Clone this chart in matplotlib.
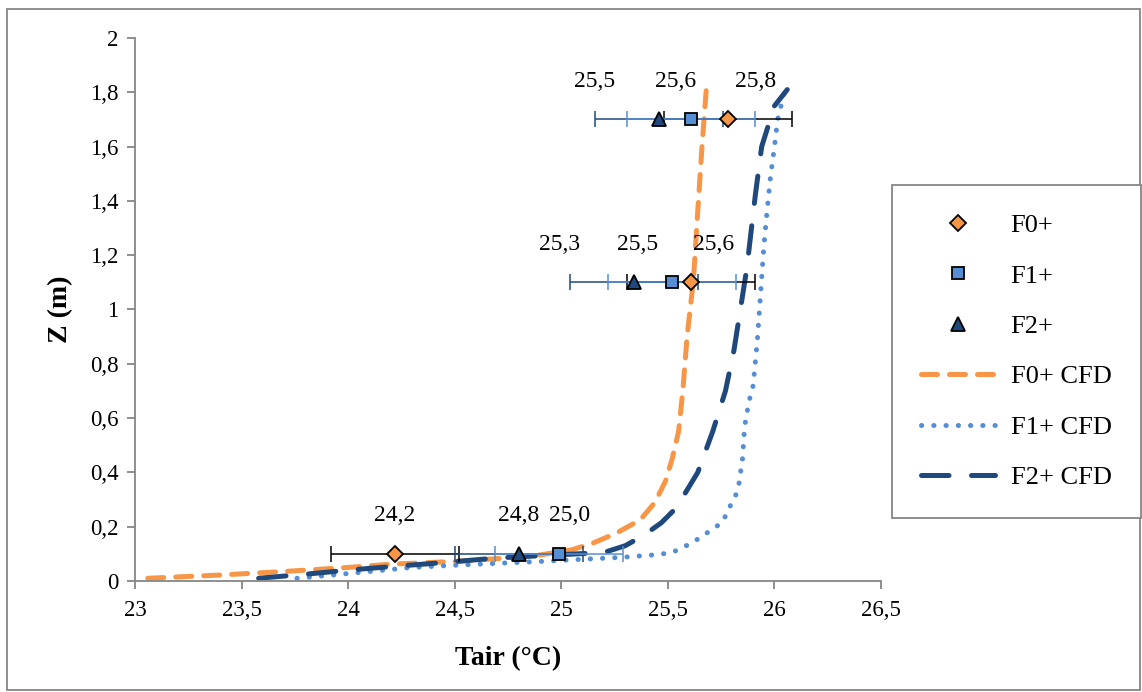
# Vertical air temperature profiles: measurements vs CFD
import matplotlib.pyplot as plt
from matplotlib.lines import Line2D
from matplotlib.patches import Rectangle
from matplotlib.ticker import FuncFormatter

plt.rcParams['font.family'] = ['Liberation Serif', 'DejaVu Serif']

# measured heights (m) and temperatures (degC)
z_meas = [0.1, 1.1, 1.7]
t_f0 = [24.22, 25.61, 25.78]
t_f1 = [24.99, 25.52, 25.61]
t_f2 = [24.80, 25.34, 25.46]
t_err = 0.3

# CFD profiles
cfd_f0_t = [23.06, 23.4, 23.7, 24.0, 24.2, 24.5, 24.75, 24.9, 25.05, 25.15, 25.26,
            25.37, 25.44, 25.49, 25.52, 25.55, 25.57, 25.59, 25.62, 25.64, 25.66, 25.68]
cfd_f0_z = [0.01, 0.022, 0.035, 0.05, 0.062, 0.072, 0.085, 0.096, 0.115, 0.14, 0.177,
            0.225, 0.29, 0.37, 0.45, 0.55, 0.70, 0.90, 1.11, 1.36, 1.60, 1.81]
cfd_f1_t = [23.76, 23.9, 24.1, 24.3, 24.5, 24.7, 24.9, 25.1, 25.28, 25.45, 25.52, 25.56,
            25.62, 25.66, 25.71, 25.76, 25.78, 25.81, 25.83, 25.85, 25.86, 25.88, 25.9,
            25.92, 25.935, 25.95, 25.965, 25.98, 26.0, 26.015, 26.04, 26.05]
cfd_f1_z = [0.01, 0.02, 0.035, 0.05, 0.058, 0.065, 0.072, 0.08, 0.087, 0.097, 0.105, 0.12,
            0.143, 0.166, 0.19, 0.22, 0.26, 0.30, 0.34, 0.45, 0.57, 0.66, 0.72,
            0.89, 1.06, 1.23, 1.36, 1.48, 1.6, 1.7, 1.78, 1.81]
cfd_f2_t = [23.58, 23.8, 24.0, 24.2, 24.45, 24.7, 24.95, 25.2, 25.3, 25.39, 25.47, 25.54,
            25.64, 25.71, 25.77, 25.81, 25.84, 25.87, 25.91, 25.94, 26.0, 26.06]
cfd_f2_z = [0.01, 0.025, 0.04, 0.053, 0.068, 0.085, 0.095, 0.105, 0.13, 0.17, 0.215, 0.27,
            0.40, 0.55, 0.70, 0.85, 1.0, 1.15, 1.42, 1.60, 1.75, 1.81]

orange = '#F79646'
light_blue = '#558ED5'
dark_blue = '#1F497D'

fig = plt.figure(figsize=(11.42, 6.92), dpi=100)
ax = fig.add_axes([0.1182, 0.1604, 0.6533, 0.7847])

# CFD curves
ax.plot(cfd_f0_t, cfd_f0_z, color=orange, lw=3.6, dashes=(3.2, 2.4),
        dash_capstyle='round', zorder=2)
ax.plot(cfd_f1_t, cfd_f1_z, color=light_blue, lw=3.6, dashes=(0.05, 2.4),
        dash_capstyle='round', zorder=2)
ax.plot(cfd_f2_t, cfd_f2_z, color=dark_blue, lw=3.6, dashes=(5.5, 4.5),
        dash_capstyle='round', zorder=2)

# error bars
ax.errorbar(t_f0, z_meas, xerr=t_err, fmt='none', ecolor='black', elinewidth=1.1,
            capsize=6, capthick=1.1, zorder=3)
ax.errorbar(t_f2, z_meas, xerr=t_err, fmt='none', ecolor=dark_blue, elinewidth=1.1,
            capsize=6, capthick=1.1, zorder=3)
ax.errorbar(t_f1, z_meas, xerr=t_err, fmt='none', ecolor=light_blue, elinewidth=1.1,
            capsize=6, capthick=1.1, zorder=3)

# markers
ax.plot(t_f0, z_meas, 'D', ms=8, mfc=orange, mec='black', mew=1.3, ls='none', zorder=4)
ax.plot(t_f1, z_meas, 's', ms=8.5, mfc=light_blue, mec='black', mew=1.3, ls='none', zorder=4)
ax.plot(t_f2, z_meas, '^', ms=10, mfc=dark_blue, mec='black', mew=1.3, ls='none', zorder=4)

# data labels (offsets in pixels)
lab_dx = {'f0': [0, 22, 28], 'f1': [10, -35, -16], 'f2': [0, -74, -65]}
for key, temps in (('f0', t_f0), ('f1', t_f1), ('f2', t_f2)):
    for t, z, dx in zip(temps, z_meas, lab_dx[key]):
        ax.annotate(f"{t:.1f}".replace('.', ','), (t, z), xytext=(dx, 38),
                    textcoords='offset pixels', ha='center', va='center', fontsize=17)

ax.set_xlim(23, 26.5)
ax.set_ylim(0, 2)
ax.set_xticks([23, 23.5, 24, 24.5, 25, 25.5, 26, 26.5])
ax.set_yticks([0, 0.2, 0.4, 0.6, 0.8, 1.0, 1.2, 1.4, 1.6, 1.8, 2.0])
fmt = FuncFormatter(lambda v, p: f"{v:g}".replace('.', ','))
ax.xaxis.set_major_formatter(fmt)
ax.yaxis.set_major_formatter(fmt)
ax.tick_params(labelsize=16.5, colors='#868686', labelcolor='black', length=6, width=1.3)
ax.tick_params(axis='x', pad=8)
ax.tick_params(axis='y', pad=6)
for s in ('top', 'right'):
    ax.spines[s].set_visible(False)
for s in ('left', 'bottom'):
    ax.spines[s].set_color('#868686')
    ax.spines[s].set_linewidth(1.3)

ax.set_xlabel('Tair (°C)', fontsize=20, fontweight='bold', labelpad=18)
ax.set_ylabel('Z (m)', fontsize=20, fontweight='bold', labelpad=12)

handles = [
    Line2D([], [], marker='D', ms=8, mfc=orange, mec='black', mew=1.3, ls='none'),
    Line2D([], [], marker='s', ms=8.5, mfc=light_blue, mec='black', mew=1.3, ls='none'),
    Line2D([], [], marker='^', ms=10, mfc=dark_blue, mec='black', mew=1.3, ls='none'),
    Line2D([], [], color=orange, lw=3.6, dashes=(3.2, 2.4), dash_capstyle='round'),
    Line2D([], [], color=light_blue, lw=3.6, dashes=(0.05, 2.4), dash_capstyle='round'),
    Line2D([], [], color=dark_blue, lw=3.6, dashes=(5.5, 4.5), dash_capstyle='round'),
]
labels = ['F0+', 'F1+', 'F2+', 'F0+ CFD', 'F1+ CFD', 'F2+ CFD']
leg = fig.legend(handles, labels, loc='center left', bbox_to_anchor=(0.781, 0.492),
                 bbox_transform=fig.transFigure, fontsize=19, labelspacing=1.02,
                 handlelength=2.8, handletextpad=0.6, borderpad=1.1, borderaxespad=0,
                 fancybox=False, edgecolor='#868686', framealpha=1)
leg.get_frame().set_linewidth(1.3)

fig.patches.append(Rectangle((0.006, 0.003), 0.992, 0.984, transform=fig.transFigure,
                             fill=False, edgecolor='#868686', lw=1.3))

fig.savefig('out.png', dpi=100)
